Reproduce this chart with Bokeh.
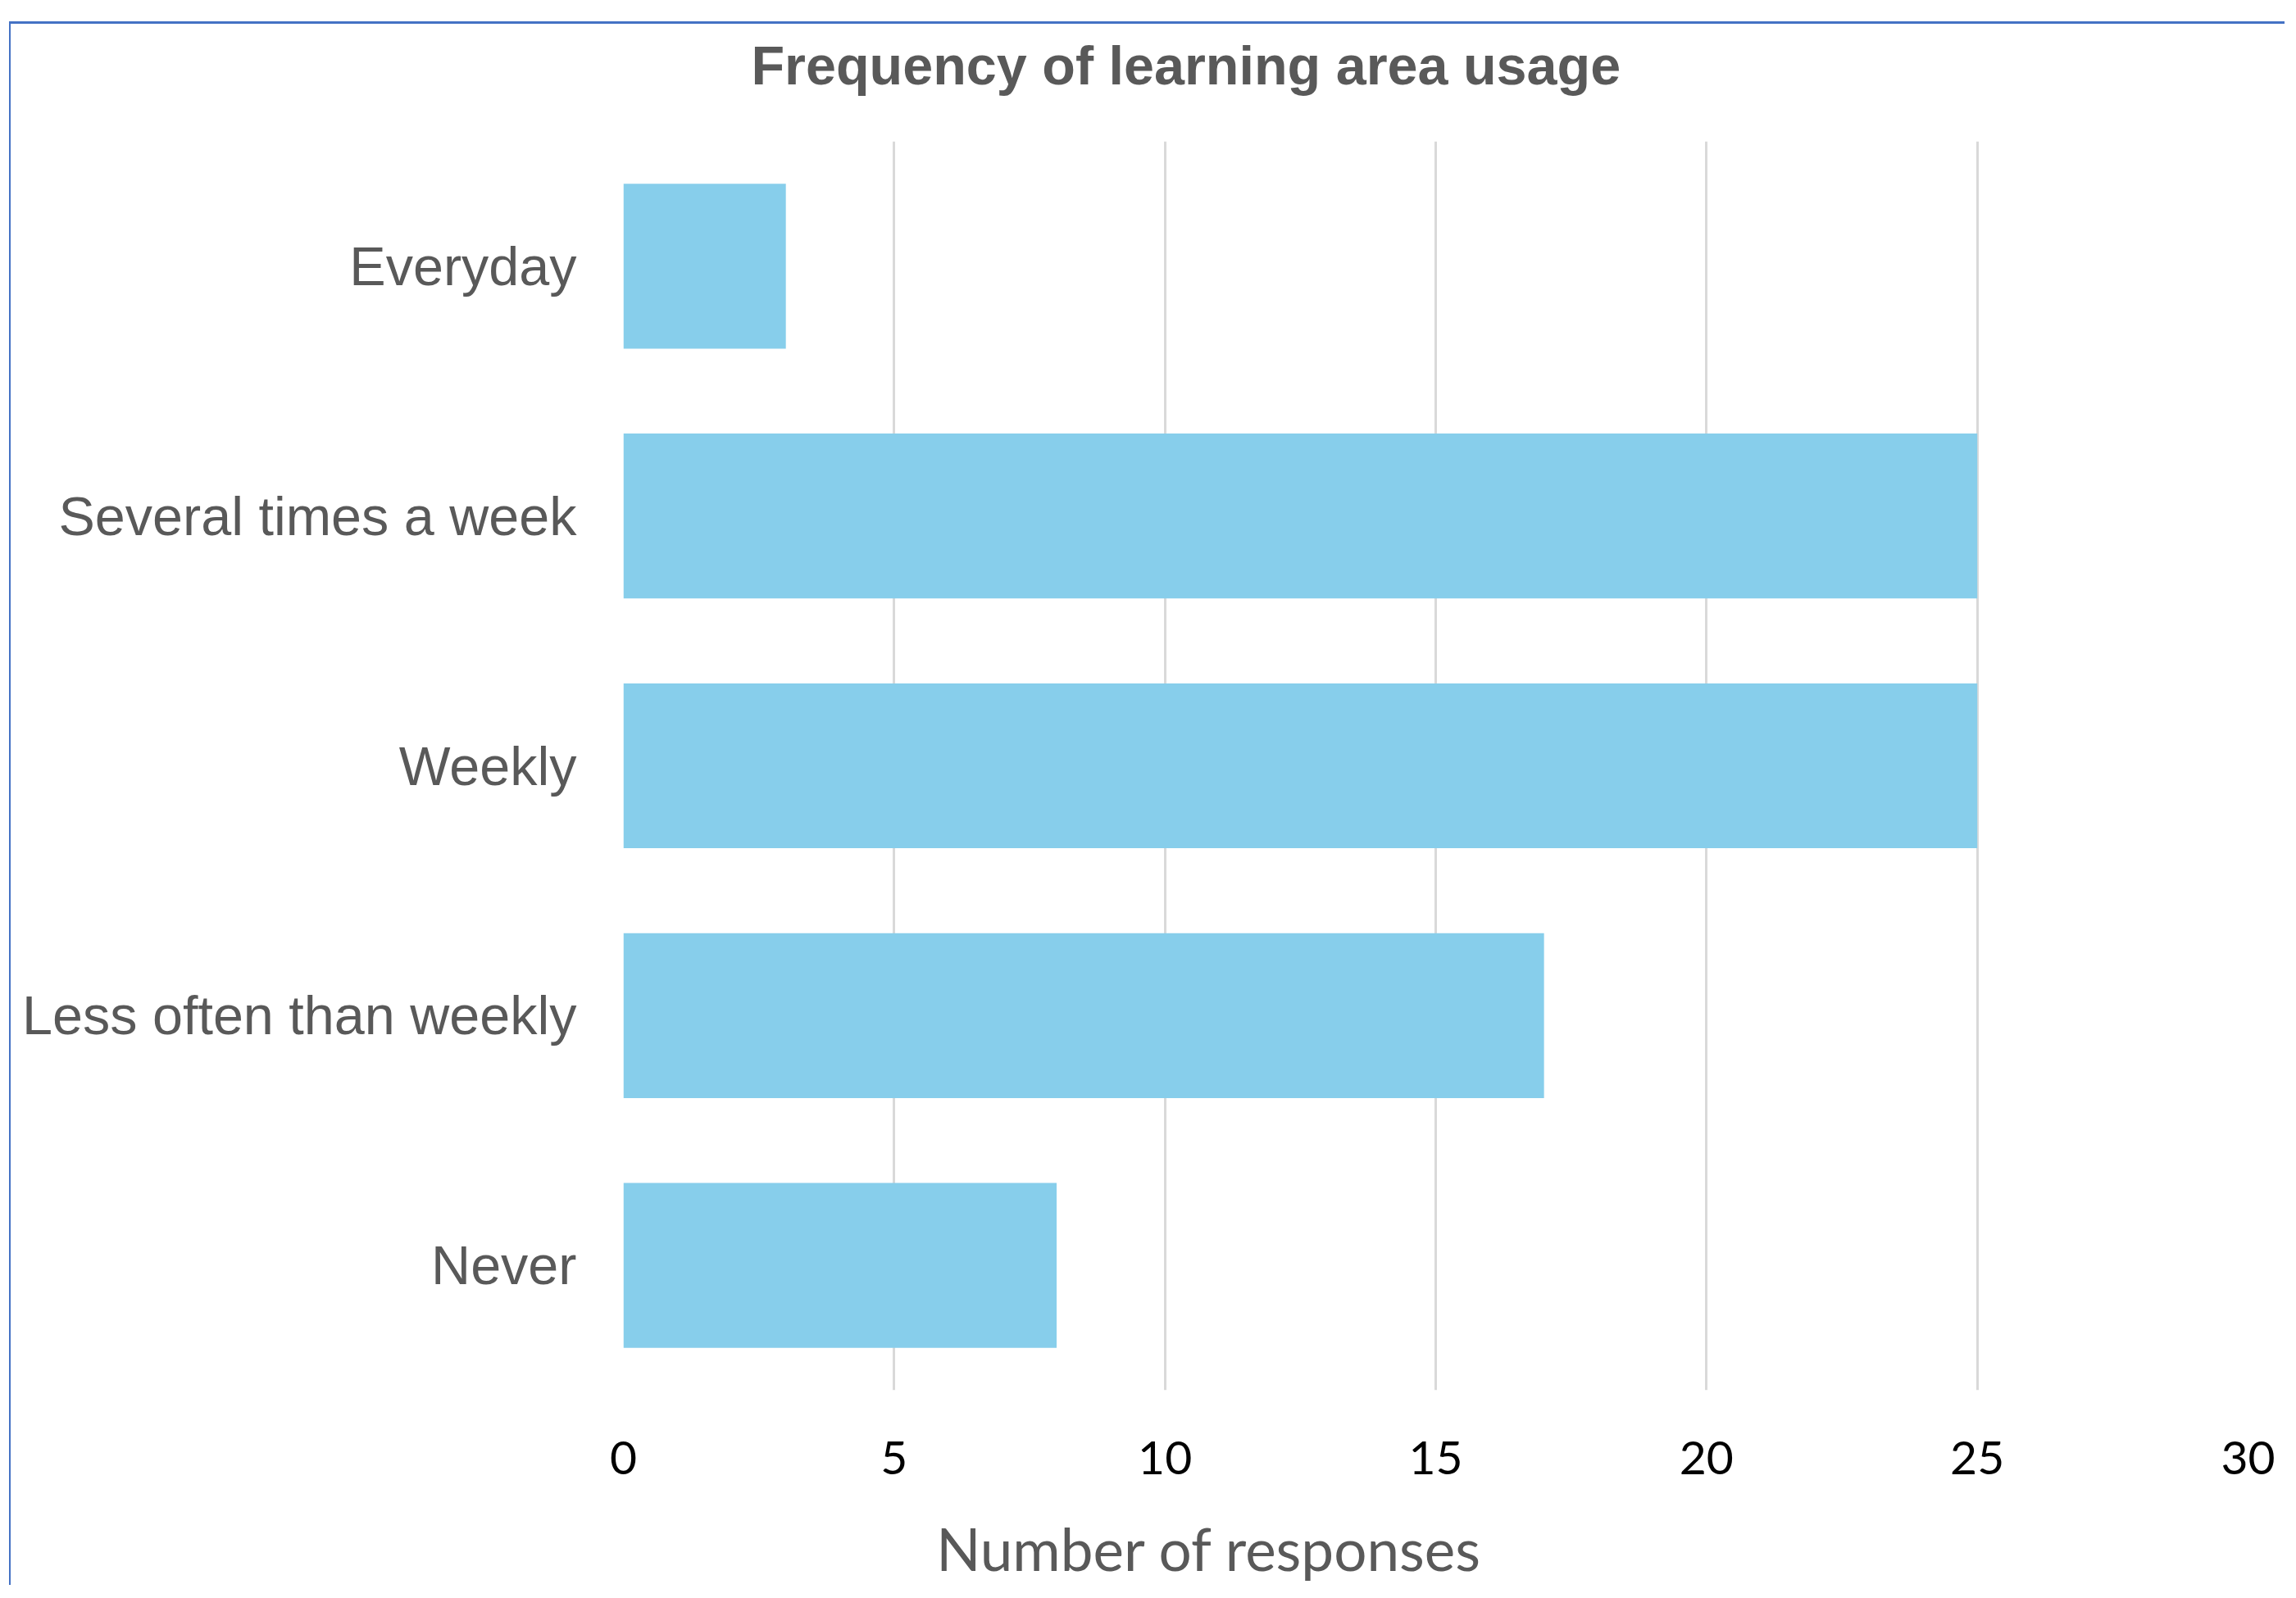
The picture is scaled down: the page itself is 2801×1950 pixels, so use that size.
from bokeh.plotting import figure
from bokeh.layouts import column, row
from bokeh.models import FactorRange, Range1d, FixedTicker, ColumnDataSource, Label, Spacer
from bokeh.embed import file_html
from bokeh.resources import INLINE

categories = ["Everyday", "Several times a week", "Weekly", "Less often than weekly", "Never"]
responses = [3, 25, 25, 17, 8]
x_ticks = [0, 5, 10, 15, 20, 25, 30]
title_text = "Frequency of learning area usage"
x_title = "Number of responses"

source = ColumnDataSource(data=dict(cat=categories, val=responses))

p = figure(
    width=2776, height=1908,
    y_range=FactorRange(factors=list(reversed(categories))),
    x_range=Range1d(0, 30),
    output_backend="svg", toolbar_location=None,
    min_border_left=747, min_border_right=47,
    min_border_top=143, min_border_bottom=241,
)
p.styles = {"border-top": "3px solid #4472C4", "border-left": "2px solid #4472C4"}

p.hbar(y="cat", right="val", height=0.66, source=source,
       fill_color="#87CEEB", line_color=None)

p.outline_line_color = None
p.background_fill_color = "white"
p.border_fill_color = "white"
p.ygrid.grid_line_color = None
p.xgrid.grid_line_color = "#D9D9D9"
p.xgrid.grid_line_width = 3

p.xaxis.ticker = FixedTicker(ticks=x_ticks)
p.xaxis.axis_line_color = None
p.xaxis.major_tick_line_color = None
p.xaxis.minor_tick_line_color = None
p.xaxis.major_tick_out = 0
p.xaxis.major_tick_in = 0
p.xaxis.major_label_standoff = 62
p.xaxis.major_label_text_font = "Lato"
p.xaxis.major_label_text_font_size = "57px"
p.xaxis.major_label_text_color = "#000000"

p.yaxis.axis_line_color = None
p.yaxis.major_tick_line_color = None
p.yaxis.major_tick_out = 0
p.yaxis.major_tick_in = 0
p.yaxis.major_label_standoff = 57
p.yaxis.major_label_text_font = "Liberation Sans"
p.yaxis.major_label_text_font_size = "66.5px"
p.yaxis.major_label_text_color = "#595959"

p.add_layout(Label(x=156, y=93, x_units="screen", y_units="screen",
                   text=title_text, text_align="left", text_baseline="middle",
                   text_font="Liberation Sans", text_font_style="bold",
                   text_font_size="66.5px", text_color="#595959"), "above")
p.add_layout(Label(x=715, y=-3, x_units="screen", y_units="screen",
                   text=x_title, text_align="center", text_baseline="middle",
                   text_font="Lato", text_font_size="71px",
                   text_color="#595959"), "below")

layout = column(Spacer(width=10, height=26), row(Spacer(width=11, height=10), p))

open("out.html", "w").write(file_html(layout, INLINE))
